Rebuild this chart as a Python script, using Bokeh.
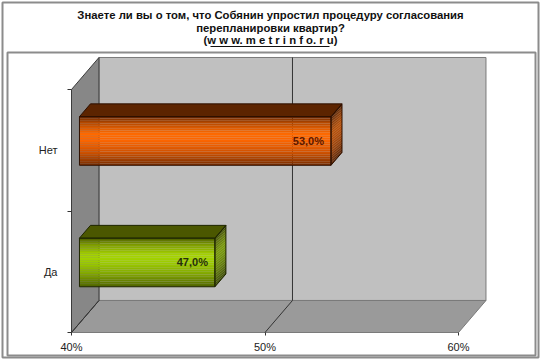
import numpy as np
from bokeh.plotting import figure
from bokeh.models import Range1d, FixedTicker
from bokeh.core.properties import value
from bokeh.embed import file_html
from bokeh.resources import INLINE

# ---------------- data ----------------
categories = ["Да", "Нет"]
values = [47.0, 53.0]
value_labels = ["47,0%", "53,0%"]
x_ticks = [40, 50, 60]
x_tick_labels = ["40%", "50%", "60%"]
title_lines = [
    "Знаете ли вы о том, что Собянин упростил процедуру согласования",
    "перепланировки квартир?",
    "(w w w. m e t r i n f o. r u)",
]

# ---------------- style / geometry ----------------
FONT = "Liberation Sans"
X_MIN, X_MAX = x_ticks[0], x_ticks[-1]
N = len(categories)
DX = 1.42      # 3-D depth offset (value units)
DY = 0.2634    # 3-D depth offset (category units)
F0, F1 = 0.29, 0.69   # bar depth span (fraction of depth)
HALF = 0.2            # half bar thickness (category units)

# pixel layout of the chart area (front plane scale)
W, H = 540, 359
PX_PER_X, X0_PX = 19.35, 71.0     # px per percent, px of X_MIN
PX_PER_Y, Y0_PX = 121.5, 332.0    # px per category, px of category floor
FRAME = dict(left=2, right=538, top=2, bottom=357)
PLOT_BOX = dict(left=7, right=535, top=52, bottom=355)
TITLE_Y = [14, 27, 39.5]
TITLE_SIZE = "11.3px"


def xd(px):
    return X_MIN + (px - X0_PX) / PX_PER_X


def yd(py):
    return (Y0_PX - py) / PX_PER_Y


bar_styles = {
    "Да": dict(stops=[(0, "#4d5e00"), (0.12, "#7a9600"), (0.35, "#a6d400"),
                      (0.5, "#9ccc00"), (0.75, "#7fa300"), (1.0, "#4f6300")],
               top="#4b5700", edge="#1f2600", label="#26300a"),
    "Нет": dict(stops=[(0, "#6e2a00"), (0.12, "#b34800"), (0.35, "#ff6a00"),
                       (0.5, "#fa6400"), (0.75, "#cc5000"), (1.0, "#7a2e00")],
                top="#5c2400", edge="#2e1000", label="#5c1800"),
}


def hex2rgb(h):
    h = h.lstrip("#")
    return np.array([int(h[i:i + 2], 16) for i in (0, 2, 4)], dtype=float)


def grad(stops, t, scale=1.0):
    pos = [s[0] for s in stops]
    cols = np.array([hex2rgb(s[1]) for s in stops])
    rgb = [np.interp(t, pos, cols[:, k]) * scale for k in range(3)]
    return "#%02x%02x%02x" % tuple(int(max(0, min(255, round(c)))) for c in rgb)


p = figure(width=W, height=H, output_backend="svg", toolbar_location=None,
           title=None,
           x_range=Range1d(xd(FRAME["left"]), xd(FRAME["right"])),
           y_range=Range1d(yd(FRAME["bottom"]), yd(FRAME["top"])),
           min_border_left=FRAME["left"], min_border_right=W - FRAME["right"],
           min_border_top=FRAME["top"], min_border_bottom=H - FRAME["bottom"])
p.background_fill_color = "white"
p.border_fill_color = "white"
p.outline_line_color = "#8c8c8c"     # outer chart border
p.outline_line_width = 2
p.xgrid.grid_line_color = None
p.ygrid.grid_line_color = None

# plot-area box
p.quad(left=[xd(PLOT_BOX["left"])], right=[xd(PLOT_BOX["right"])],
       top=[yd(PLOT_BOX["top"])], bottom=[yd(PLOT_BOX["bottom"])],
       fill_color="white", line_color="#8c8c8c", line_width=2)

# title
xc = xd(W / 2)
p.text(x=[xc] * len(title_lines), y=[yd(v) for v in TITLE_Y], text=title_lines,
       text_align="center", text_baseline="middle",
       text_font=value(FONT), text_font_size=TITLE_SIZE, text_font_style="bold",
       text_color="#111111")
# underline of the web address
p.line([xd(W / 2 - 60), xd(W / 2 + 59)], [yd(TITLE_Y[2] + 6.5)] * 2,
       line_color="#111111", line_width=1)

# walls and floor
p.patch([X_MIN + DX, X_MAX + DX, X_MAX + DX, X_MIN + DX], [DY, DY, N + DY, N + DY],
        fill_color="#c0c0c0", line_color="#7a7a7a", line_width=1)
p.patch([X_MIN, X_MAX, X_MAX + DX, X_MIN + DX], [0, 0, DY, DY],
        fill_color="#9a9a9a", line_color="#7a7a7a", line_width=1)
p.patch([X_MIN, X_MIN + DX, X_MIN + DX, X_MIN], [0, DY, N + DY, N],
        fill_color="#878787", line_color="#3c3c3c", line_width=1)

# gridlines (floor diagonal + back-wall vertical)
inner = x_ticks[1:-1]
p.multi_line([[t, t + DX] for t in x_ticks[:-1]], [[0, DY] for t in x_ticks[:-1]],
             line_color="#333333", line_width=1)
p.multi_line([[t + DX, t + DX] for t in inner], [[DY, N + DY] for t in inner],
             line_color="#333333", line_width=1)

# bars
NS = 28
for i, (cat, v, lab) in enumerate(zip(categories, values, value_labels)):
    st = bar_styles[cat]
    yc = i + 0.5
    x0f, x1f = X_MIN + F0 * DX, v + F0 * DX
    yb, yt = yc - HALF + F0 * DY, yc + HALF + F0 * DY
    ddx, ddy = (F1 - F0) * DX, (F1 - F0) * DY
    edges = np.linspace(yt, yb, NS + 1)
    tmid = (np.arange(NS) + 0.5) / NS
    cols = [grad(st["stops"], t) for t in tmid]
    scols = [grad(st["stops"], t, 0.72) for t in tmid]
    # front face strips
    p.quad(left=[x0f] * NS, right=[x1f] * NS, top=list(edges[:-1]), bottom=list(edges[1:]),
           fill_color=cols, line_color=None)
    # side face strips
    xs = [[x1f, x1f + ddx, x1f + ddx, x1f] for _ in range(NS)]
    ys = [[edges[k + 1], edges[k + 1] + ddy, edges[k] + ddy, edges[k]] for k in range(NS)]
    p.patches(xs, ys, fill_color=scols, line_color=None)
    # top face
    p.patch([x0f, x1f, x1f + ddx, x0f + ddx], [yt, yt, yt + ddy, yt + ddy],
            fill_color=st["top"], line_color=st["edge"], line_width=1)
    # outlines
    p.patch([x1f, x1f + ddx, x1f + ddx, x1f], [yb, yb + ddy, yt + ddy, yt],
            fill_color=None, line_color=st["edge"], line_width=1)
    p.quad(left=[x0f], right=[x1f], top=[yt], bottom=[yb],
           fill_color=None, line_color=st["edge"], line_width=1)
    # value label
    p.text(x=[x1f], y=[yc + F0 * DY], text=[lab], x_offset=-7,
           text_align="right", text_baseline="middle",
           text_font=value(FONT), text_font_size="11px", text_font_style="bold",
           text_color=st["label"])

# axes
xa = p.xaxis[0]
xa.fixed_location = 0
xa.ticker = FixedTicker(ticks=x_ticks)
xa.major_label_overrides = dict(zip(x_ticks, x_tick_labels))
xa.axis_line_color = None
xa.major_tick_in = 0
xa.major_tick_out = 3
xa.major_tick_line_color = "#333333"
xa.minor_tick_line_color = None
xa.major_label_standoff = 5
xa.major_label_text_font = FONT
xa.major_label_text_font_size = "11px"
xa.major_label_text_color = "#222222"

ya = p.yaxis[0]
ya.fixed_location = X_MIN
centers = [i + 0.5 for i in range(N)]
ya.ticker = FixedTicker(ticks=centers, minor_ticks=list(range(N + 1)))
ya.major_label_overrides = dict(zip(centers, categories))
ya.axis_line_color = None
ya.major_tick_line_color = None
ya.major_tick_in = 0
ya.major_tick_out = 0
ya.minor_tick_in = 0
ya.minor_tick_out = 4
ya.minor_tick_line_color = "#333333"
ya.major_label_standoff = 10
ya.major_label_text_font = FONT
ya.major_label_text_font_size = "11px"
ya.major_label_text_color = "#222222"

open("out.html", "w").write(file_html(p, INLINE))
